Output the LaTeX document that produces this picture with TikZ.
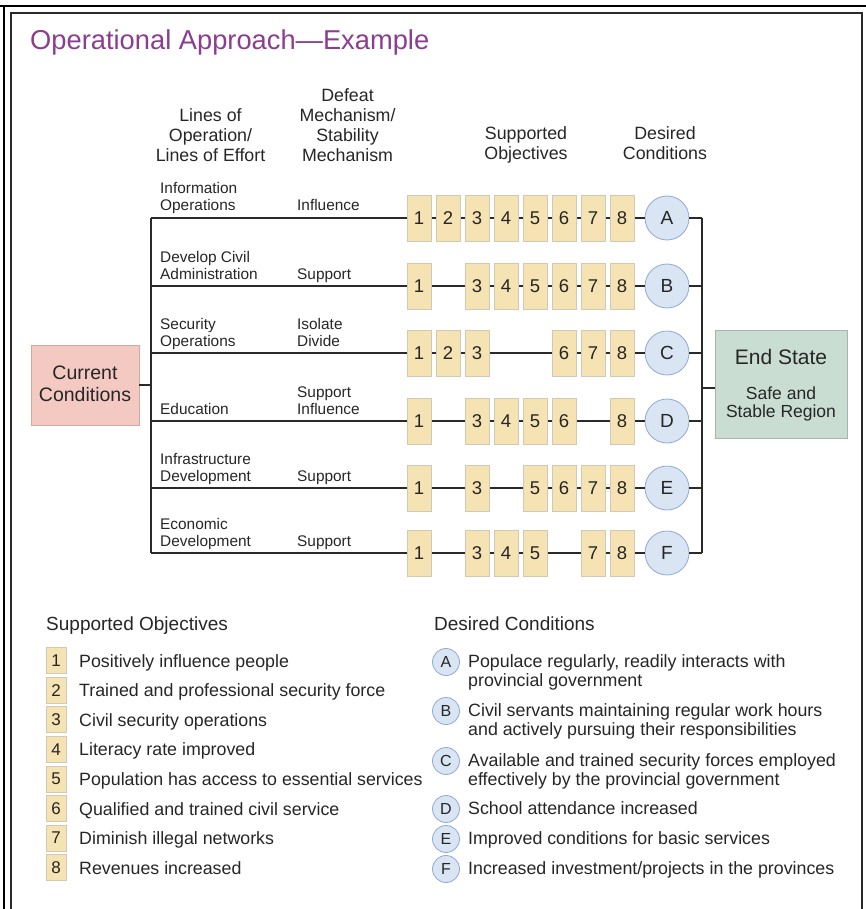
\documentclass[tikz,border=0pt]{standalone}
\usepackage{fontspec}
\setmainfont{Liberation Sans}
\definecolor{txtc}{HTML}{262626}
\definecolor{titlec}{HTML}{8B3D8F}
\definecolor{objfill}{HTML}{F6E3B4}
\definecolor{objdraw}{HTML}{D2C9B4}
\definecolor{dcfill}{HTML}{DAE5F4}
\definecolor{dcdraw}{HTML}{8FA9D6}
\definecolor{ccfill}{HTML}{F3C9C1}
\definecolor{ccdraw}{HTML}{CDAAA4}
\definecolor{esfill}{HTML}{C9DDD3}
\definecolor{esdraw}{HTML}{A6B5AE}
\definecolor{linec}{HTML}{2A2A2A}
\begin{document}
\begin{tikzpicture}[x=1pt,y=-1pt,
  every node/.style={text=txtc, inner sep=0pt},
  objbox/.style={draw=objdraw, fill=objfill, line width=0.8pt, minimum width=24pt, minimum height=46pt, font=\fontsize{18.5}{20}\selectfont},
  dcirc/.style={circle, draw=dcdraw, fill=dcfill, line width=0.8pt, minimum size=44pt, font=\fontsize{19}{20}\selectfont},
  lobox/.style={draw=objdraw, fill=objfill, line width=0.8pt, minimum width=20pt, minimum height=26pt, font=\fontsize{17}{20}\selectfont},
  locirc/.style={circle, draw=dcdraw, fill=dcfill, line width=0.8pt, minimum size=27pt, font=\fontsize{16}{18}\selectfont},
  rowlbl/.style={anchor=base west, align=left, font=\fontsize{15.4}{17}\selectfont},
  hdr/.style={anchor=base, align=center, font=\fontsize{17.8}{20}\selectfont},
  legtxt/.style={anchor=base west, align=left, font=\fontsize{17.8}{19.5}\selectfont},
  leghdr/.style={anchor=base west, font=\fontsize{19}{22}\selectfont},
  conn/.style={draw=linec, line width=1.8pt},
  framethin/.style={draw=black, line width=1.5pt},
  framethick/.style={draw=linec, line width=2.6pt}]
\useasboundingbox (0,0) rectangle (866,909);
% frame
\draw[framethin] (0,6) -- (866,6);
\draw[framethin] (4,6) -- (4,909);
\draw[framethick] (11,909) -- (11,13) -- (862,13) -- (862,909);
% title
\node[anchor=base west, text=titlec, font=\fontsize{27.3}{30}\selectfont] (title) at (30,50) {Operational Approach—Example};
% headers (anchor base = baseline of last line)
\node[hdr] (hLoe) at (210.5,162) {Lines of\\Operation/\\Lines of Effort};
\node[hdr] (hDm) at (347.5,162) {Defeat\\Mechanism/\\Stability\\Mechanism};
\node[hdr] (hSo) at (526,160) {Supported\\Objectives};
\node[hdr] (hDc) at (665,160) {Desired\\Conditions};
% current conditions
\node[draw=ccdraw, fill=ccfill, line width=0.8pt, minimum width=108pt, minimum height=80pt] (cc) at (85,385) {};
\node[anchor=base, align=center, font=\fontsize{19.5}{22}\selectfont] (ccT) at (85,401) {Current\\Conditions};
% end state
\node[draw=esdraw, fill=esfill, line width=0.8pt, minimum width=132pt, minimum height=108pt] (es) at (781,384) {};
\node[anchor=base, font=\fontsize{21}{24}\selectfont] (esT) at (781,364) {End State};
\node[anchor=base, align=center, font=\fontsize{17.5}{18}\selectfont] (esS) at (781,417) {Safe and\\Stable Region};
% buses
\coordinate (lbM) at (151,385);
\coordinate (rbM) at (702,388);
\foreach \r/\y in {A/218,B/286,C/353,D/421,E/488,F/553}{
  \coordinate (lb\r) at (151,\y);
  \coordinate (rb\r) at (702,\y);
}
\draw[conn] (lbA) -- (lbF);
\draw[conn] (rbA) -- (rbF);
\draw[conn] (cc) -- (lbM);
\draw[conn] (rbM) -- (rbM -| es.west);
% rows
\foreach \r/\y/\objs in {A/218/{1,2,3,4,5,6,7,8},B/286/{1,3,4,5,6,7,8},C/353/{1,2,3,6,7,8},D/421/{1,3,4,5,6,8},E/488/{1,3,5,6,7,8},F/553/{1,3,4,5,7,8}}{
  \node[dcirc] (c\r) at (667,\y) {\r};
  \draw[conn] (lb\r) -- (c\r);
  \draw[conn] (c\r) -- (rb\r);
  \foreach \i in \objs {
    \node[objbox] (o\r\i) at ({419+29*(\i-1)},\y) {\i};
  }
}
% row labels (anchor base = baseline of last line)
\node[rowlbl] (lA) at (160,211) {Information\\Operations};
\node[rowlbl] (mA) at (297,211) {Influence};
\node[rowlbl] (lB) at (160,279) {Develop Civil\\Administration};
\node[rowlbl] (mB) at (297,279) {Support};
\node[rowlbl] (lC) at (160,346) {Security\\Operations};
\node[rowlbl] (mC) at (297,346) {Isolate\\Divide};
\node[rowlbl] (lD) at (160,414) {Education};
\node[rowlbl] (mD) at (297,414) {Support\\Influence};
\node[rowlbl] (lE) at (160,481) {Infrastructure\\Development};
\node[rowlbl] (mE) at (297,481) {Support};
\node[rowlbl] (lF) at (160,546) {Economic\\Development};
\node[rowlbl] (mF) at (297,546) {Support};
% legend: supported objectives
\node[leghdr] (soH) at (46,630) {Supported Objectives};
\foreach \i/\t in {1/Positively influence people,2/Trained and professional security force,3/Civil security operations,4/Literacy rate improved,5/Population has access to essential services,6/Qualified and trained civil service,7/Diminish illegal networks,8/Revenues increased}{
  \node[lobox] (lo\i) at (56,{660.5+29.6*(\i-1)}) {\i};
  \node[legtxt] (lt\i) at (79,{667+29.6*(\i-1)}) {\t};
}
% legend: desired conditions
\node[leghdr] (dcH) at (434,630) {Desired Conditions};
\node[locirc] (lcA) at (446,662) {A};
\node[legtxt] (ltA) at (468,686.5) {Populace regularly, readily interacts with\\provincial government};
\node[locirc] (lcB) at (446,711) {B};
\node[legtxt] (ltB) at (468,735.5) {Civil servants maintaining regular work hours\\and actively pursuing their responsibilities};
\node[locirc] (lcC) at (446,761) {C};
\node[legtxt] (ltC) at (468,785.5) {Available and trained security forces employed\\effectively by the provincial government};
\node[locirc] (lcD) at (446,809) {D};
\node[legtxt] (ltD) at (468,814) {School attendance increased};
\node[locirc] (lcE) at (446,839) {E};
\node[legtxt] (ltE) at (468,844) {Improved conditions for basic services};
\node[locirc] (lcF) at (446,869) {F};
\node[legtxt] (ltF) at (468,874) {Increased investment/projects in the provinces};
\end{tikzpicture}
\end{document}
